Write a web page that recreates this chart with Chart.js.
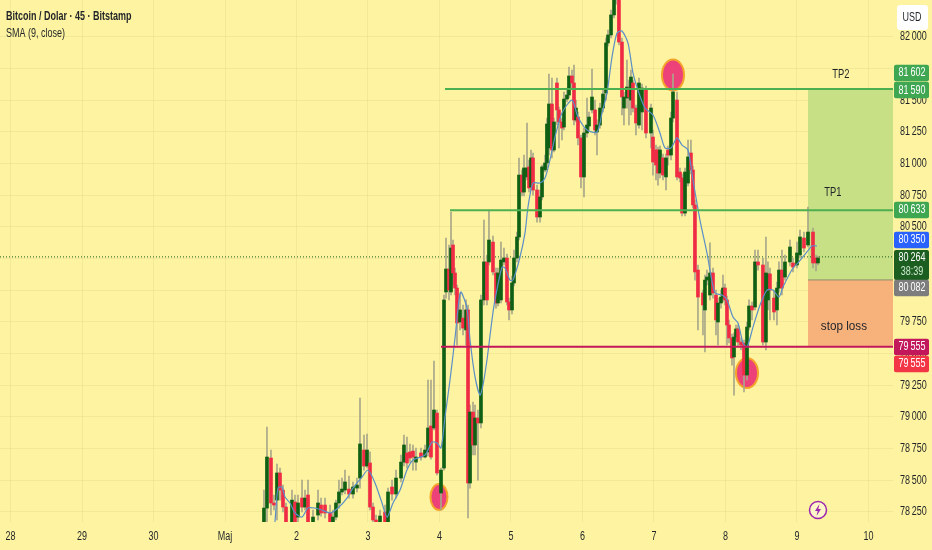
<!DOCTYPE html>
<html>
<head>
<meta charset="utf-8">
<title>Bitcoin / Dolar</title>
<script src="https://cdn.jsdelivr.net/npm/chart.js@4/dist/chart.umd.min.js"></script>
<style>
html, body { margin: 0; padding: 0; background: #fdf3a0; overflow: hidden; }
canvas { display: block; }
</style>
</head>
<body>
<canvas id="chart" width="932" height="550"></canvas>
<script>
// x values are days counted from 1 May
const dayLabels = ['28', '29', '30', 'Maj', '2', '3', '4', '5', '6', '7', '8', '9', '10'];
const priceMin = 78171, priceMax = 82292, topTick = 82000, coveredTick = 81750;
const dayMin = -3.147, dayMax = 9.343;

const candleDays = [.545,.587,.643,.685,.727,.769,.811,.853,.937,.979,1.021,1.077,1.119,1.161,1.231,1.301,1.343,1.399,1.469,1.510,1.552,1.594,1.636,1.678,1.734,1.790,1.846,1.888,1.944,1.986,2.028,2.070,2.112,2.168,2.238,2.280,2.336,2.392,2.462,2.503,2.545,2.587,2.629,2.671,2.741,2.797,2.839,2.881,2.923,2.965,3.021,3.063,3.091,3.133,3.161,3.189,3.217,3.245,3.287,3.329,3.371,3.399,3.427,3.469,3.497,3.538,3.580,3.622,3.664,3.692,3.748,3.790,3.818,3.860,3.902,3.944,3.972,4.014,4.042,4.084,4.112,4.154,4.182,4.224,4.252,4.280,4.308,4.364,4.406,4.434,4.476,4.503,4.531,4.573,4.601,4.643,4.671,4.713,4.741,4.783,4.811,4.853,4.881,4.909,4.937,4.979,5.021,5.063,5.091,5.133,5.175,5.203,5.245,5.287,5.329,5.357,5.399,5.441,5.469,5.510,5.552,5.580,5.622,5.650,5.678,5.706,5.748,5.790,5.832,5.888,5.958,5.986,6.028,6.056,6.084,6.126,6.168,6.196,6.238,6.266,6.322,6.364,6.392,6.434,6.476,6.517,6.545,6.573,6.615,6.685,6.713,6.741,6.783,6.825,6.867,6.895,6.937,6.965,6.993,7.021,7.049,7.091,7.119,7.147,7.175,7.217,7.259,7.301,7.329,7.371,7.413,7.455,7.524,7.566,7.594,7.622,7.678,7.720,7.748,7.790,7.832,7.902,7.944,8.000,8.042,8.098,8.154,8.224,8.266,8.294];
const opens = [78147,78281,78676,78321,78344,78558,78423,78289,78147,78329,78210,78360,78289,78384,78147,78226,78305,78305,78242,78147,78210,78321,78408,78423,78431,78392,78439,78518,78739,78613,78637,78289,78187,78108,78250,78171,78447,78392,78518,78644,78716,78724,78731,78644,78716,78684,78724,78929,78913,79031,78400,78597,79987,80168,79987,80358,80137,80018,79750,79781,79687,79845,78479,79039,78779,78992,78953,79924,80224,80224,80381,80137,79900,79924,80224,80255,79908,79845,80058,80255,80421,80910,80776,80895,80974,80816,81045,80792,80579,80737,80950,81005,81124,81471,81108,81637,81424,81329,81289,81510,81542,81692,81637,81345,81368,81203,80895,81242,81297,81424,81424,81250,81305,81439,81558,81953,82016,82174,82308,82387,81960,81439,81518,81597,81502,81637,81439,81305,81408,81581,81242,81210,81108,81108,80926,81045,80895,81108,81068,81360,81502,80934,80887,80610,80847,81084,80950,80674,80160,79979,79845,80081,79963,80137,79963,79750,79900,79939,80018,79924,79726,79624,79474,79631,79695,79592,79584,79331,79710,79876,79868,80224,80200,79592,79924,80129,79939,79845,80018,80160,80105,80224,80216,80200,80279,80413,80358,80460,80255,80216];
const closes = [78281,78684,78321,78305,78558,78423,78289,78155,78344,78155,78321,78289,78360,78147,78210,78321,78242,78242,78155,78210,78321,78408,78431,78487,78392,78447,78463,78787,78613,78739,78289,78187,78108,78218,78155,78408,78392,78518,78644,78779,78637,78676,78684,78684,78684,78739,78913,78684,79055,78558,78581,79924,80168,80002,80334,80137,80018,79742,79845,79702,79845,78479,79039,78779,78992,78953,79924,80224,79924,80397,80145,79900,80137,80239,80255,79908,79845,80058,80255,80421,80910,80776,80966,80966,80808,81045,80792,80579,80737,80974,81005,81313,81471,81108,81329,81424,81329,81281,81510,81542,81692,81637,81345,81439,81203,80895,81242,81305,81368,81526,81266,81305,81439,81550,81953,82016,82174,82331,82371,81960,81526,81526,81605,81526,81684,81439,81321,81637,81597,81242,81439,81013,80989,80926,81108,80910,81045,81068,81360,81566,80895,80887,80610,80934,81053,80950,80674,80145,79947,79884,80081,80105,80137,79979,79766,79900,79947,80018,79924,79726,79624,79466,79631,79695,79592,79568,79331,79710,79876,79845,80224,80200,79592,80137,80129,80002,79829,80018,80160,80018,80224,80342,80184,80295,80421,80334,80460,80216,80216,80255];
const highs = [78423,78921,78739,78384,78629,78597,78463,78321,78423,78384,78384,78502,78423,78502,78266,78423,78360,78360,78305,78266,78344,78502,78518,78581,78534,78487,78518,79150,78858,78866,78724,78321,78226,78266,78305,78439,78502,78581,78700,78858,78842,78787,78779,78755,78755,78779,79292,79292,79442,79055,78597,79963,80413,80358,80618,80397,80176,80042,79979,79884,79924,79884,79095,79118,79095,79055,79963,80555,80279,80626,80429,80176,80176,80381,80334,80287,79939,80113,80318,80460,81045,80950,81068,81321,81029,81108,81084,80831,80792,80989,81068,81360,81708,81676,81360,81676,81447,81360,81566,81597,81763,81739,81779,81502,81408,81226,81281,81518,81408,81747,81502,81345,81479,81581,81992,82055,82213,82371,82403,82410,81992,81566,81818,81660,81739,81660,81463,81676,81629,81613,81471,81266,81147,81131,81139,81076,81076,81139,81408,81708,81566,80966,80918,80966,81187,81187,80981,80713,80200,80002,80121,80160,80374,80176,80002,79939,80002,80121,80050,79955,79766,79655,79663,79726,79726,79624,79608,79750,79924,79908,80318,80318,80255,80421,80224,80176,80002,80066,80224,80318,80279,80397,80255,80381,80476,80460,80658,80492,80279,80271];
const lows = [78108,78108,78226,78266,78187,78344,78250,78108,78108,78108,78108,78250,78266,78108,78108,78187,78218,78203,78108,78108,78187,78281,78384,78392,78360,78360,78408,78439,78581,78597,78266,78147,78068,78068,78108,78108,78344,78360,78487,78613,78597,78644,78581,78581,78660,78676,78692,78668,78897,78542,78266,78581,79939,79924,79963,80042,79963,79568,79687,79647,79568,78203,78439,78700,78700,78502,78913,79884,79884,80200,80121,79860,79876,79900,80200,79884,79766,79813,80034,80224,80397,80745,80745,80871,80776,80792,80752,80539,80539,80713,80934,80966,81068,81045,81092,81305,81124,81187,81266,81487,81518,81597,81305,81329,81147,80808,80737,81210,81266,81400,81226,81068,81281,81408,81502,81929,81992,82150,82260,81937,81384,81305,81439,81305,81384,81408,81226,81281,81266,81203,81124,80910,80871,80831,80887,80871,80792,80989,81029,81329,80871,80855,80587,80587,80824,80918,80650,80081,79687,79647,79513,80042,79924,79939,79647,79568,79860,79908,79884,79568,79584,79410,79173,79600,79560,79529,79197,79292,79687,79766,79845,80160,79568,79529,79845,79766,79766,79726,79987,79963,80081,80192,80145,80176,80255,80303,80342,80176,80153,80200];

// SMA read off the picture, not recomputed
const smaDays = [.699,.741,.797,.839,.909,.979,1.077,1.161,1.259,1.357,1.469,1.580,1.706,1.790,1.916,2.000,2.098,2.196,2.266,2.350,2.448,2.545,2.629,2.797,2.895,2.965,3.021,3.077,3.147,3.217,3.273,3.301,3.385,3.427,3.497,3.566,3.608,3.664,3.734,3.776,3.874,3.916,3.986,4.028,4.126,4.196,4.238,4.308,4.406,4.476,4.545,4.615,4.713,4.853,4.937,5.063,5.203,5.273,5.343,5.413,5.483,5.552,5.636,5.706,5.776,5.874,5.986,6.084,6.154,6.238,6.322,6.392,6.476,6.545,6.643,6.741,6.783,6.853,6.951,7.021,7.105,7.175,7.245,7.301,7.385,7.483,7.580,7.664,7.748,7.804,7.944,8.014,8.140,8.210,8.280];
const smaValues = [78171,78439,78447,78368,78321,78242,78210,78281,78281,78266,78242,78281,78360,78439,78526,78581,78479,78321,78210,78321,78423,78581,78660,78700,78802,78795,78755,79000,79292,79624,79924,79987,79860,79608,79316,79173,79252,79450,79766,79924,80184,80176,80081,80081,80263,80453,80658,80847,80847,80887,81029,81210,81400,81502,81368,81266,81250,81400,81558,81842,82031,82047,81953,81716,81581,81439,81384,81242,81124,81124,81203,81147,81108,80871,80555,80295,80160,79979,79963,79924,79789,79742,79584,79552,79710,79884,80002,80002,79947,80026,80176,80216,80303,80350,80350];

const tp2Level = 81590, tp1Level = 80633, stopLevel = 79555, entryLevel = 80082, lastPrice = 80264;
const tp2Start = 3.077, tp1Start = 3.147, stopStart = 3.021, zoneStart = 8.154;

// right hand price tags: printed value and where the tag sits on the axis
const tagValues = [81602, 81590, 80633, 80350, 80264, 80082, 79555, 79555];
const tagSlots = [81716, 81581, 80634, 80397, 80200, 80018, 79553, 79418];
const tagColors = ['#3fa652', '#3fa652', '#3fa652', '#2962ff', '#1b5e20', '#7d7d7d', '#c2185b', '#f23645'];
const countdown = '38:39';

const noteTexts = ['TP2', 'TP1', 'stop loss'];
const noteDays = [8.615, 8.503, 8.657];
const notePrices = [81708, 80776, 79718];
const circleDays = [6.266, 7.301, 2.993];
const circlePrices = [81700, 79347, 78368];
const circleRx = [11, 11, 8.5];
const circleRy = [15.5, 15, 13];
const boltDay = 8.294, boltPrice = 78266;

const UP = '#0f5f14', DOWN = '#f02b44', WICK = '#a9a78a';
const FONT = '"Liberation Sans", sans-serif';
const TEXT = '#1f2328';

function fmt(n) {
  const s = String(n);
  return s.slice(0, -3) + '\u2009' + s.slice(-3);
}

const bodies = candleDays.map((d, i) => ({ x: d, y: [opens[i], closes[i]] }));
const wicks = candleDays.map((d, i) => ({ x: d, y: [lows[i], highs[i]] }));
const bodyColors = candleDays.map((d, i) => closes[i] >= opens[i] ? UP : DOWN);

function level(start, value) {
  return [{ x: start, y: value }, { x: dayMax, y: value }];
}

// no narrow font here, so squeeze text sideways through fillText's maxWidth
let squeeze = 0.72;
function condense(ctx) {
  const raw = ctx.fillText.bind(ctx);
  ctx.fillText = (s, x, y) => raw(s, x, y, ctx.measureText(s).width * squeeze);
}

// circles go under the candles, everything else on top
const overlay = {
  id: 'overlay',
  beforeDraw(chart) {
    const ctx = chart.ctx;
    ctx.save();
    ctx.fillStyle = '#fdf3a0';
    ctx.fillRect(0, 0, chart.width, chart.height);
    ctx.restore();
    squeeze = 0.72;
  },
  beforeDatasetsDraw(chart) {
    const ctx = chart.ctx, x = chart.scales.x, y = chart.scales.y;
    ctx.save();
    circleDays.forEach((d, i) => {
      ctx.beginPath();
      ctx.ellipse(x.getPixelForValue(d), y.getPixelForValue(circlePrices[i]), circleRx[i], circleRy[i], 0, 0, Math.PI * 2);
      ctx.fillStyle = '#ec4279';
      ctx.fill();
      ctx.lineWidth = 2;
      ctx.strokeStyle = '#f5a32a';
      ctx.stroke();
    });
    ctx.restore();
  },
  afterDraw(chart) {
    const ctx = chart.ctx, x = chart.scales.x, y = chart.scales.y;
    ctx.save();
    ctx.textBaseline = 'middle';

    // header
    ctx.textAlign = 'left';
    ctx.fillStyle = TEXT;
    squeeze = 0.72;
    ctx.font = 'bold 12.5px ' + FONT;
    ctx.fillText('Bitcoin / Dolar \u00b7 45 \u00b7 Bitstamp', 6, 17);
    ctx.font = '12.5px ' + FONT;
    ctx.fillText('SMA (9, close)', 6, 34);

    // labels on the chart
    ctx.textAlign = 'center';
    ctx.font = '13px ' + FONT;
    noteTexts.forEach((t, i) => {
      squeeze = i === 2 ? 0.9 : 0.72;
      ctx.fillText(t, x.getPixelForValue(noteDays[i]), y.getPixelForValue(notePrices[i]));
    });

    // price tags
    squeeze = 0.72;
    ctx.font = '12.5px ' + FONT;
    tagValues.forEach((v, i) => {
      const cy = y.getPixelForValue(tagSlots[i]);
      const h = v === lastPrice ? 30 : 16.5;
      ctx.fillStyle = tagColors[i];
      ctx.beginPath();
      ctx.roundRect(894, cy - h / 2, 35, h, 2);
      ctx.fill();
      ctx.fillStyle = '#ffffff';
      if (v === lastPrice) {
        ctx.fillText(fmt(v), 912, cy - 7);
        ctx.fillStyle = '#cfe8d0';
        ctx.fillText(countdown, 912, cy + 7);
      } else {
        ctx.fillText(fmt(v), 912, cy);
      }
    });

    // USD button
    ctx.fillStyle = '#ffffff';
    ctx.beginPath();
    ctx.roundRect(897, 5, 31, 25, 3);
    ctx.fill();
    ctx.fillStyle = TEXT;
    ctx.fillText('USD', 912, 18);

    // bolt marker
    const bx = x.getPixelForValue(boltDay), by = y.getPixelForValue(boltPrice);
    ctx.beginPath();
    ctx.arc(bx, by, 8.5, 0, Math.PI * 2);
    ctx.fillStyle = '#fff6c8';
    ctx.fill();
    ctx.lineWidth = 1.5;
    ctx.strokeStyle = '#9c27b0';
    ctx.stroke();
    ctx.beginPath();
    ctx.moveTo(bx + 1.5, by - 6);
    ctx.lineTo(bx - 3, by + 1);
    ctx.lineTo(bx - 0.3, by + 1);
    ctx.lineTo(bx - 1.5, by + 6);
    ctx.lineTo(bx + 3, by - 1);
    ctx.lineTo(bx + 0.3, by - 1);
    ctx.closePath();
    ctx.fillStyle = '#9c27b0';
    ctx.fill();
    ctx.restore();
  }
};

function noPad(scale) {
  scale.paddingTop = scale.paddingBottom = scale.paddingLeft = scale.paddingRight = 0;
}

const ctx = document.getElementById('chart').getContext('2d');
condense(ctx);
new Chart(ctx, {
  type: 'bar',
  data: {
    datasets: [
      // target zones
      { type: 'line', data: level(zoneStart, tp2Level), borderWidth: 0, pointRadius: 0,
        backgroundColor: '#c7df85', fill: { value: entryLevel }, order: 10 },
      { type: 'line', data: level(zoneStart, entryLevel), borderColor: '#8f8f6c', borderWidth: 1, pointRadius: 0,
        backgroundColor: '#f7b27c', fill: { value: stopLevel }, order: 9 },
      // levels
      { type: 'line', data: level(dayMin, lastPrice), borderColor: '#1f5d1c', borderWidth: 1, borderDash: [1, 2], pointRadius: 0, order: 8 },
      { type: 'line', data: level(tp2Start, tp2Level), borderColor: '#4caf50', borderWidth: 2, pointRadius: 0, order: 3 },
      { type: 'line', data: level(tp1Start, tp1Level), borderColor: '#4caf50', borderWidth: 2, pointRadius: 0, order: 3 },
      { type: 'line', data: level(stopStart, stopLevel), borderColor: '#c2185b', borderWidth: 2, pointRadius: 0, order: 3 },
      // candles
      { data: wicks, backgroundColor: WICK, barThickness: 1, grouped: false, order: 6 },
      { data: bodies, backgroundColor: bodyColors, barThickness: 3, grouped: false, order: 5 },
      // SMA
      { type: 'line', data: smaDays.map((d, i) => ({ x: d, y: smaValues[i] })),
        borderColor: '#5b8fc7', borderWidth: 1.2, pointRadius: 0, tension: 0.25, order: 4 }
    ]
  },
  options: {
    responsive: false,
    animation: false,
    devicePixelRatio: 1,
    layout: { padding: 0, autoPadding: false },
    plugins: { legend: { display: false }, tooltip: { enabled: false } },
    scales: {
      x: {
        type: 'linear',
        offset: false,
        min: dayMin,
        max: dayMax,
        grid: { color: 'rgba(205,195,115,0.22)', offset: false, drawTicks: false },
        border: { display: false },
        ticks: {
          stepSize: 1,
          autoSkip: false,
          includeBounds: false,
          maxRotation: 0,
          padding: 7,
          color: TEXT,
          font: { family: FONT, size: 12.5 },
          callback: v => dayLabels[v + 3]
        },
        afterFit(scale) { scale.height = 28; noPad(scale); }
      },
      y: {
        position: 'right',
        min: priceMin,
        max: priceMax,
        grid: { color: 'rgba(205,195,115,0.22)', drawTicks: false },
        border: { display: false },
        ticks: {
          stepSize: 250,
          autoSkip: false,
          includeBounds: false,
          padding: 7,
          color: TEXT,
          font: { family: FONT, size: 12.5 },
          callback: v => v === coveredTick ? '' : fmt(v)
        },
        afterBuildTicks(scale) { scale.ticks = scale.ticks.filter(t => t.value <= topTick); },
        afterFit(scale) { scale.width = 39; noPad(scale); }
      }
    }
  },
  plugins: [overlay]
});
</script>
</body>
</html>
